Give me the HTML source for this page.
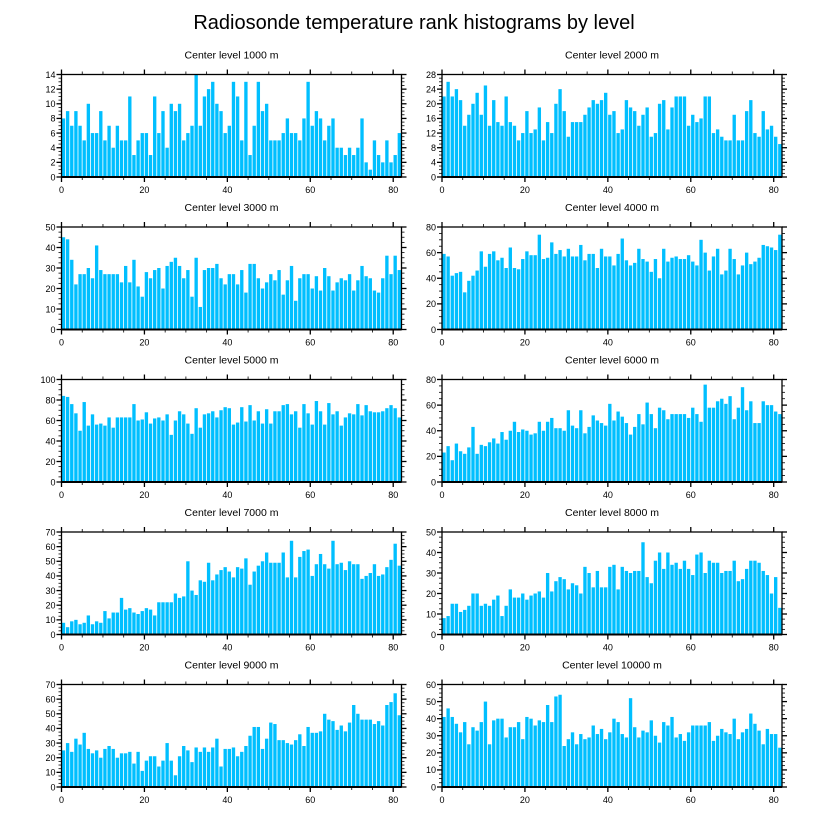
<!DOCTYPE html>
<html><head><meta charset="utf-8">
<style>
html,body{margin:0;padding:0;background:#fff;}
svg{display:block;font-family:"Liberation Sans",Arial,sans-serif;}
</style></head>
<body>
<svg id="chart" width="822" height="824" viewBox="0 0 822 824" xmlns="http://www.w3.org/2000/svg">
<text x="414" y="29" text-anchor="middle" font-size="20">Radiosonde temperature rank histograms by level</text>
</svg>
<script>
const levels = ["1000","2000","3000","4000","5000","6000","7000","8000","9000","10000"];
const yMax = [14,28,50,80,100,80,70,50,70,60];
const yStep = [2,4,10,20,20,20,10,10,10,10];
const counts1000 = [8,9,7,9,7,5,10,6,6,9,5,7,4,7,5,5,11,3,5,6,6,3,11,6,9,4,10,9,10,5,6,7,14,7,11,12,13,10,9,6,7,13,11,5,13,3,7,13,9,10,5,5,5,6,8,6,6,5,8,13,7,9,8,5,7,8,4,4,3,4,3,4,8,2,1,5,3,2,5,2,3,6];
const counts2000 = [22,26,22,24,21,14,17,20,23,17,25,14,21,15,14,22,15,14,10,12,18,12,13,19,10,15,12,20,24,18,11,15,15,15,17,19,21,20,21,23,17,18,12,13,21,19,18,14,17,19,11,12,20,21,13,19,22,22,22,14,17,15,16,22,22,12,13,11,10,10,17,10,10,18,21,12,11,18,13,14,11,9];
const counts3000 = [45,44,34,22,27,27,30,25,41,29,27,27,27,27,23,31,23,34,21,16,28,25,29,30,20,31,33,35,31,25,29,16,35,11,29,30,30,32,25,22,27,27,22,29,18,32,32,25,20,23,27,24,29,17,24,31,14,25,27,27,20,26,19,30,26,19,23,25,24,27,19,24,31,26,25,19,18,25,36,27,36,29];
const counts4000 = [59,57,42,44,45,29,38,42,46,61,49,59,61,54,56,48,64,48,47,55,61,58,58,74,55,56,68,59,62,57,63,57,57,66,54,59,59,48,63,57,57,50,59,71,54,50,52,63,55,53,45,55,40,63,53,56,57,55,55,58,53,50,70,60,46,57,63,43,46,63,55,43,50,60,51,53,56,66,65,64,62,74];
const counts5000 = [84,83,76,67,50,78,55,66,56,57,55,63,53,63,63,63,63,76,60,61,68,57,62,63,60,66,46,60,69,66,57,47,72,53,66,67,69,63,70,73,72,56,58,73,59,75,60,69,57,71,57,69,69,75,76,66,69,53,76,67,56,79,69,56,77,66,69,55,63,67,66,76,65,75,69,68,68,69,72,75,72,63];
const counts6000 = [23,28,17,30,24,22,27,43,22,29,28,31,34,30,39,33,40,47,39,41,40,37,38,47,40,47,50,42,42,40,56,44,42,56,38,43,52,48,46,44,61,48,55,51,46,37,43,53,45,62,53,42,58,56,49,53,53,53,53,50,58,53,47,76,58,58,63,65,61,67,49,58,74,56,63,46,46,63,60,60,55,53];
const counts7000 = [8,5,9,10,7,8,13,7,9,8,16,11,15,15,25,17,18,15,14,16,18,17,13,22,22,22,22,28,25,26,50,30,27,37,36,49,37,41,44,46,43,39,46,45,52,34,43,47,50,56,49,49,49,56,39,64,39,53,57,58,40,48,55,48,45,64,48,49,44,50,48,48,38,40,42,48,40,41,46,51,62,47];
const counts8000 = [8,9,15,15,11,12,14,20,20,14,15,14,17,19,9,14,22,18,18,20,17,19,20,21,18,30,21,26,28,27,22,25,24,20,33,30,23,31,23,23,33,34,22,33,31,30,31,31,45,28,25,36,40,32,40,34,35,32,36,32,29,39,40,30,36,35,35,30,31,31,36,26,27,32,36,36,35,31,29,20,28,13];
const counts9000 = [25,30,24,33,29,37,26,23,25,20,26,28,26,20,23,23,24,16,24,11,18,21,21,14,18,30,18,8,21,28,25,17,27,24,27,24,27,33,14,26,26,27,21,24,28,35,41,41,26,33,44,43,32,32,30,29,32,36,28,41,37,37,38,50,46,45,39,42,38,44,56,50,46,46,46,43,45,42,56,58,64,49];
const counts10000 = [41,46,41,37,32,38,25,35,33,38,50,25,39,40,40,29,35,35,38,28,41,40,36,39,38,48,38,53,54,24,28,32,25,31,28,29,36,31,34,28,32,40,38,31,29,52,35,29,33,32,39,30,26,38,36,41,29,31,27,32,36,36,36,36,38,27,30,34,32,31,40,28,32,34,43,37,33,25,34,31,31,23];
const xTicks = [0,20,40,60,80];
const allCounts = [counts1000,counts2000,counts3000,counts4000,counts5000,counts6000,counts7000,counts8000,counts9000,counts10000];

const NS = "http://www.w3.org/2000/svg";
const svg = document.getElementById("chart");
function mk(tag, attrs, parent){
  const e = document.createElementNS(NS, tag);
  for (const k in attrs) e.setAttribute(k, attrs[k]);
  (parent||svg).appendChild(e);
  return e;
}
const PW = 340, PH = 102.5, X0 = [61.5, 442], Y0 = 74.5, ROWSTEP = 152.5, XMAX = 82;

for (let p = 0; p < 10; p++) {
  const col = p % 2, row = Math.floor(p / 2);
  const left = X0[col], top = Y0 + row * ROWSTEP, bottom = top + PH, right = left + PW;
  const xs = v => left + v / XMAX * PW;
  const ys = v => bottom - v / yMax[p] * PH;
  const g = mk("g", {});
  
  

  const t = mk("text", {x: left + PW/2, y: top - 16, "text-anchor": "middle", "font-size": "10.5"}, g);
  t.textContent = "Center level " + levels[p] + " m";
  
  

  const data = allCounts[p];
  data.forEach((v, i) => {
    const x1 = xs(i), x2 = xs(i + 1);
    const r = mk("rect", {x: x1 + 0.3, y: ys(v), width: Math.max(0.5, x2 - x1 - 0.8), height: bottom - ys(v), fill: "#00bfff"}, g);
    
    
  });

  const frame = mk("rect", {x: left, y: top, width: PW, height: PH, fill: "none", stroke: "#000", "stroke-width": "1.3"}, g);
  
  
  mk("line", {x1: left, x2: right, y1: bottom, y2: bottom, stroke: "#000", "stroke-width": "2"}, g);

  // x ticks
  for (let v = 0; v <= 80; v += 5) {
    const major = v % 20 === 0;
    const L = major ? 5 : 3;
    mk("line", {x1: xs(v), x2: xs(v), y1: bottom, y2: bottom + L, stroke: "#000", "stroke-width": major ? 1.3 : 0.8}, g);
    mk("line", {x1: xs(v), x2: xs(v), y1: top, y2: top - L, stroke: "#000", "stroke-width": major ? 1.3 : 0.8}, g);
  }
  xTicks.forEach(v => {
    const tl = mk("text", {x: xs(v), y: bottom + 16, "text-anchor": "middle", "font-size": "9"}, g);
    tl.textContent = v;
    
    
  });
  // y ticks
  const minor = yStep[p] / 4;
  for (let v = 0; v <= yMax[p] + 1e-9; v += minor) {
    const isMajor = Math.abs(v / yStep[p] - Math.round(v / yStep[p])) < 1e-6;
    const L = isMajor ? 5 : 3;
    mk("line", {x1: left, x2: left - L, y1: ys(v), y2: ys(v), stroke: "#000", "stroke-width": isMajor ? 1.3 : 0.8}, g);
    mk("line", {x1: right, x2: right + L, y1: ys(v), y2: ys(v), stroke: "#000", "stroke-width": isMajor ? 1.3 : 0.8}, g);
  }
  for (let v = 0; v <= yMax[p]; v += yStep[p]) {
    const yl = mk("text", {x: left - 6, y: ys(v) + 3.3, "text-anchor": "end", "font-size": "9"}, g);
    yl.textContent = v;
    
    
  }
}
</script>
</body></html>
